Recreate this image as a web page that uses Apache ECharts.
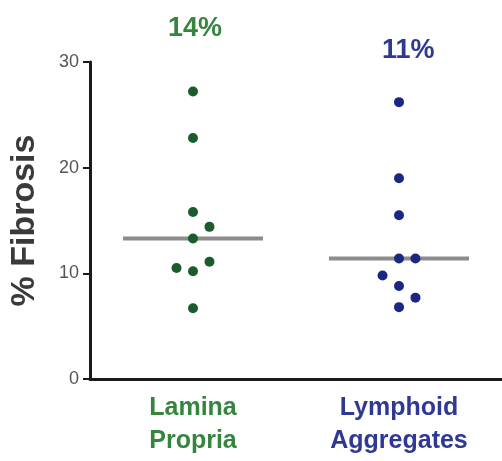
<!DOCTYPE html>
<html lang="en">
<head>
    <meta charset="UTF-8">
    <title>% Fibrosis</title>
    <script type="text/javascript" src="https://cdn.jsdelivr.net/npm/echarts@6/dist/echarts.min.js"></script>
    <style>
        html, body { margin: 0; padding: 0; background: #fff; }
    </style>
</head>
<body>
<div id="main" style="width: 502px;height:461px;"></div>

<script type="text/javascript">
    // groups on the x axis
    var categories = ['Lamina\nPropria', 'Lymphoid\nAggregates'];
    var groupColors = ['#1a5c2b', '#1a2884'];
    var labelColors = ['#36853f', '#2f3893'];
    var pctLabels = ['14%', '11%'];

    // % fibrosis per sample, with small horizontal jitter (in group widths)
    var lpValues = [27.2, 22.8, 15.8, 14.4, 13.3, 11.1, 10.5, 10.2, 6.7];
    var lpJitter = [0, 0, 0, 0.08, 0, 0.08, -0.08, 0, 0];
    var laValues = [26.2, 19.0, 15.5, 11.4, 11.4, 9.8, 8.8, 7.7, 6.8];
    var laJitter = [0, 0, 0, 0, 0.08, -0.08, 0, 0.08, 0];

    var yTicks = [0, 10, 20, 30];

    function median(arr) {
        var s = arr.slice().sort(function (a, b) { return a - b; });
        var m = Math.floor(s.length / 2);
        return s.length % 2 ? s[m] : (s[m - 1] + s[m]) / 2;
    }

    function points(values, jitter, center) {
        return values.map(function (v, i) { return [center + jitter[i], v]; });
    }

    var groups = [
        {values: lpValues, jitter: lpJitter},
        {values: laValues, jitter: laJitter}
    ];

    var series = [];
    var halfLine = 0.34;
    var pctY = [33.2, 31.1];
    var pctDx = [0.01, 0.045];

    groups.forEach(function (g, i) {
        var c = i + 0.5;
        var med = median(g.values);
        series.push({
            type: 'line',
            xAxisIndex: 1,
            symbol: 'none',
            silent: true,
            lineStyle: {color: '#8c8c8c', width: 4},
            data: [[c - halfLine, med], [c + halfLine, med]],
            z: 2
        });
        series.push({
            type: 'scatter',
            xAxisIndex: 1,
            symbolSize: 10,
            itemStyle: {color: groupColors[i], opacity: 1},
            data: points(g.values, g.jitter, c),
            z: 3
        });
        series.push({
            type: 'scatter',
            xAxisIndex: 1,
            symbolSize: 0,
            clip: false,
            silent: true,
            itemStyle: {opacity: 1},
            data: [[c + pctDx[i], pctY[i]]],
            label: {
                show: true,
                position: 'inside',
                formatter: pctLabels[i],
                color: labelColors[i],
                fontFamily: 'Liberation Sans',
                fontWeight: 'bold',
                fontSize: 27
            }
        });
    });

    var myChart = echarts.init(document.getElementById('main'));

    var option = {
        animation: false,
        backgroundColor: '#fff',
        grid: {left: 86, right: -4, top: 62, bottom: 82},
        xAxis: [{
            type: 'category',
            data: categories,
            axisLine: {lineStyle: {color: '#1a1a1a', width: 3}},
            axisTick: {alignWithLabel: true, length: 8, lineStyle: {color: '#1a1a1a', width: 3}},
            axisLabel: {
                margin: 13,
                fontFamily: 'Liberation Sans',
                fontWeight: 'bold',
                fontSize: 25,
                lineHeight: 33,
                color: function (value, index) { return labelColors[index]; }
            }
        }, {
            type: 'value',
            min: 0,
            max: 2,
            show: false
        }],
        yAxis: {
            type: 'value',
            min: yTicks[0],
            max: yTicks[yTicks.length - 1],
            interval: 10,
            name: '% Fibrosis',
            nameLocation: 'middle',
            nameGap: 48,
            nameRotate: 90,
            nameTextStyle: {
                fontFamily: 'Liberation Sans',
                fontWeight: 'bold',
                fontSize: 34,
                color: '#3a3a3a'
            },
            splitLine: {show: false},
            axisLine: {show: true, lineStyle: {color: '#1a1a1a', width: 3}},
            axisTick: {show: true, length: 7, lineStyle: {color: '#1a1a1a', width: 2}},
            axisLabel: {
                margin: 11,
                fontFamily: 'Liberation Sans',
                fontSize: 18,
                color: '#555'
            }
        },
        series: series
    };

    myChart.setOption(option);
</script>
</body>
</html>
